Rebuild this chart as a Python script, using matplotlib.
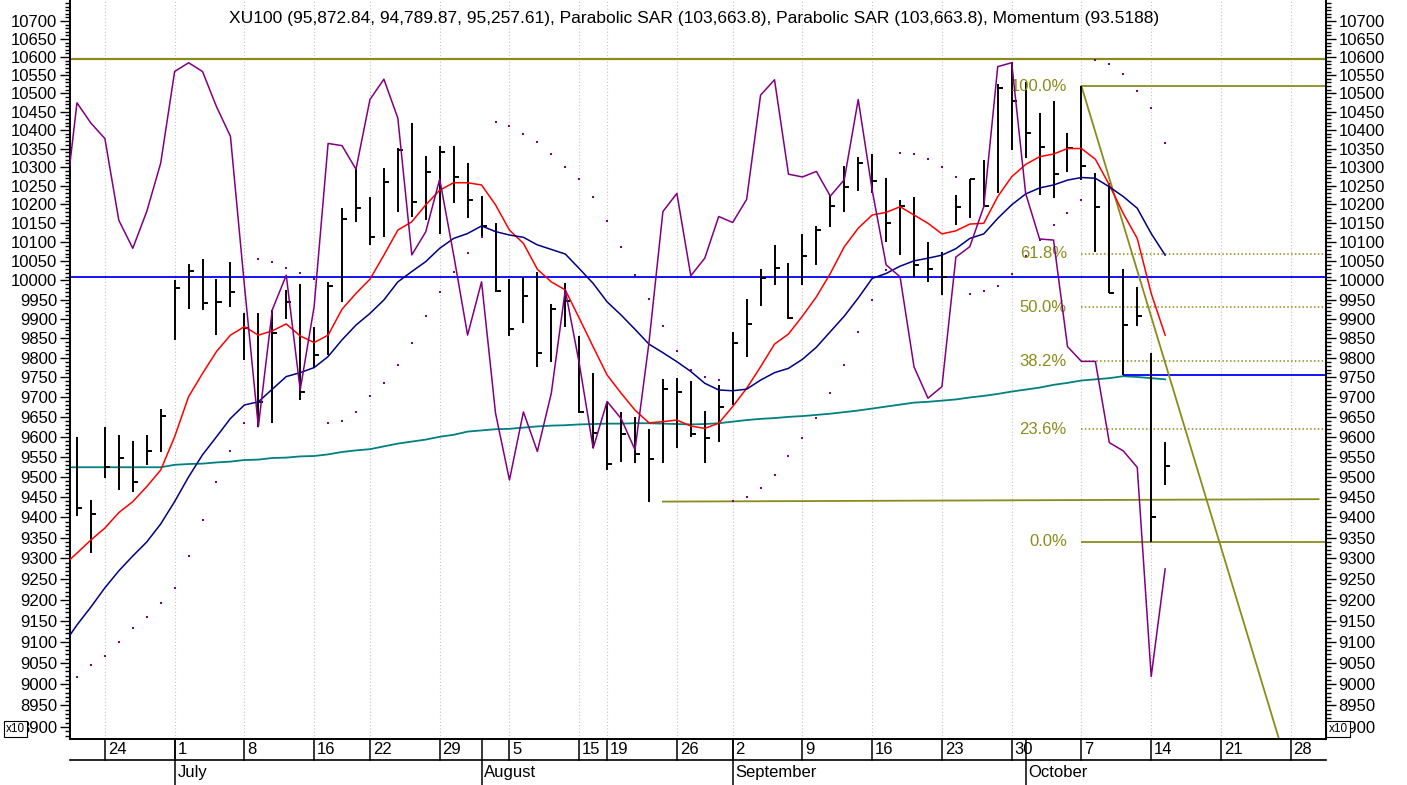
import numpy as np
import pandas as pd
import matplotlib
matplotlib.use('Agg')
import matplotlib.pyplot as plt
import matplotlib.transforms as mtransforms
from matplotlib.ticker import FixedLocator, FuncFormatter, NullFormatter

plt.rcParams['font.family'] = ['Liberation Sans', 'DejaVu Sans']

# trading sessions (BIST holidays removed), Jun 19 .. Nov 1 2019
holidays = ['2019-07-15', '2019-08-12', '2019-08-13', '2019-08-14',
            '2019-08-30', '2019-10-29']
sessions = pd.bdate_range('2019-06-19', '2019-11-01')
sessions = sessions[~sessions.isin(pd.to_datetime(holidays))]

# XU100 (x10) daily bars, Jun 20 .. Oct 15
high = [9600, 9443, 9625, 9605, 9590, 9605, 9670, 10001, 10042, 10055,
        10004, 10049, 9914, 9916, 9923, 9975, 9990, 9880, 9996, 10190,
        10297, 10221, 10297, 10351, 10420, 10330, 10357, 10357, 10310, 10222,
        10152, 10004, 10010, 10023, 9939, 9994, 9856, 9762, 9688, 9663,
        9649, 9619, 9745, 9749, 9742, 9666, 9731, 9867, 9951, 10029,
        10093, 10045, 10122, 10143, 10225, 10303, 10328, 10335, 10270, 10212,
        10221, 10101, 10075, 10225, 10267, 10319, 10527, 10586, 10531, 10447,
        10480, 10391, 10520, 10283, 10256, 10029, 9983, 9811, 9587]
low = [9404, 9313, 9498, 9468, 9463, 9530, 9561, 9846, 9925, 9923,
       9858, 9931, 9794, 9625, 9634, 9899, 9693, 9773, 9807, 9944,
       10153, 10093, 10114, 10181, 10167, 10159, 10123, 10203, 10163, 10114,
       9970, 9856, 9889, 9777, 9790, 9880, 9659, 9571, 9517, 9538,
       9534, 9439, 9534, 9571, 9600, 9534, 9586, 9680, 9803, 9933,
       9988, 9899, 9988, 10040, 10141, 10181, 10237, 10230, 10101, 10066,
       10010, 9996, 9962, 10145, 10163, 10195, 10230, 10346, 10324, 10225,
       10216, 10288, 10265, 10075, 9966, 9756, 9882, 9341, 9479]
close = [9423, 9409, 9525, 9547, 9488, 9565, 9652, 9979, 10025, 9940,
         9944, 9969, 9876, 9688, 9863, 9944, 9714, 9807, 9985, 10161,
         10190, 10115, 10259, 10345, 10207, 10288, 10340, 10274, 10212, 10143,
         9972, 9873, 9960, 9811, 9925, 9946, 9662, 9610, 9532, 9607,
         9557, 9544, 9720, 9712, 9607, 9598, 9676, 9837, 9887, 10005,
         10031, 9901, 10064, 10132, 10196, 10247, 10310, 10263, 10150, 10197,
         10040, 10029, 10008, 10194, 10267, 10197, 10515, 10480, 10391, 10355,
         10281, 10351, 10303, 10192, 9968, 9884, 9908, 9402, 9526]

# parabolic SAR, Jun 20 .. Oct 15
sar = [9017, 9045, 9067, 9100, 9133, 9159, 9193, 9229, 9306, 9394,
       9488, 9565, 9635, 10056, 10049, 10031, 10018, 10003, 9635, 9640,
       9663, 9703, 9736, 9782, 9837, 9907, 9970, 10023, 10071, 10114,
       10423, 10411, 10389, 10367, 10334, 10301, 10268, 10221, 10156, 10087,
       10014, 9951, 9882, 9818, 9769, 9750, 9743, 9441, 9451, 9472,
       9505, 9552, 9596, 9646, 9710, 9782, 9867, 9950, 10027, 10339,
       10334, 10321, 10301, 10273, 9964, 9973, 9985, 10017, 10064, 10106,
       10145, 10178, 10212, 10592, 10580, 10553, 10507, 10459, 10366]

# moving averages, Jun 19 .. Oct 15
ma_fast = [9282, 9313, 9345, 9374, 9412, 9439, 9476, 9517, 9600, 9701,
           9760, 9816, 9858, 9880, 9858, 9869, 9887, 9856, 9839, 9858,
           9925, 9966, 10003, 10066, 10132, 10154, 10199, 10238, 10258, 10258,
           10252, 10199, 10132, 10097, 10029, 9996, 9975, 9902, 9828, 9756,
           9710, 9667, 9635, 9638, 9642, 9627, 9621, 9634, 9676, 9722,
           9777, 9835, 9861, 9907, 9957, 10018, 10088, 10137, 10172, 10179,
           10194, 10172, 10150, 10122, 10130, 10148, 10150, 10221, 10274, 10307,
           10328, 10335, 10350, 10350, 10321, 10252, 10176, 10110, 9966, 9858]
ma_mid = [9092, 9140, 9183, 9229, 9270, 9306, 9340, 9384, 9439, 9500,
          9555, 9600, 9646, 9680, 9688, 9720, 9752, 9762, 9775, 9803,
          9846, 9884, 9914, 9949, 9996, 10023, 10049, 10084, 10110, 10123,
          10143, 10128, 10119, 10113, 10093, 10081, 10069, 10031, 9992, 9944,
          9910, 9873, 9835, 9813, 9790, 9765, 9735, 9718, 9716, 9720,
          9743, 9762, 9773, 9796, 9827, 9867, 9907, 9954, 10005, 10018,
          10037, 10051, 10058, 10066, 10083, 10110, 10122, 10163, 10199, 10228,
          10244, 10252, 10265, 10272, 10270, 10247, 10221, 10190, 10123, 10066]
ma_long = [9524, 9524, 9524, 9524, 9524, 9524, 9524, 9524, 9530, 9532,
           9533, 9536, 9538, 9542, 9543, 9547, 9548, 9551, 9552, 9556,
           9562, 9566, 9569, 9576, 9583, 9588, 9593, 9600, 9605, 9613,
           9616, 9619, 9620, 9623, 9626, 9628, 9629, 9631, 9632, 9633,
           9633, 9634, 9634, 9633, 9632, 9631, 9632, 9634, 9638, 9642,
           9645, 9647, 9650, 9652, 9655, 9658, 9662, 9666, 9671, 9676,
           9681, 9686, 9688, 9691, 9694, 9699, 9703, 9708, 9714, 9719,
           9724, 9731, 9736, 9742, 9745, 9748, 9753, 9751, 9748, 9745]

# momentum overlay (own hidden scale), Jun 19 .. Oct 15
momentum = [99.82, 102.01, 101.64, 101.36, 99.87, 99.36, 100.03, 100.91, 102.58, 102.74,
            102.58, 101.94, 101.40, 98.69, 96.11, 98.24, 98.87, 96.78, 98.30, 101.27,
            101.23, 100.80, 102.07, 102.44, 101.73, 99.24, 99.66, 100.62, 99.24, 97.78,
            98.75, 96.36, 95.14, 96.38, 95.66, 96.72, 98.60, 97.27, 95.72, 96.57,
            96.26, 95.69, 97.64, 100.03, 100.36, 98.86, 99.18, 99.94, 99.83, 100.25,
            102.15, 102.43, 100.71, 100.66, 100.76, 100.31, 100.61, 102.07, 100.42, 99.06,
            98.84, 97.20, 96.63, 96.84, 99.20, 99.39, 100.12, 102.67, 102.74, 100.36,
            99.53, 99.51, 97.57, 97.30, 97.30, 95.82, 95.67, 95.37, 91.56, 93.52]

# drawn objects
top_line = 10595
round_line = 10010
support_line = ('2019-10-10', 9755)
fib_high = ('2019-10-07', 10520)
fib_low = ('2019-10-14', 9341)
fib_ratios = [1.0, 0.618, 0.5, 0.382, 0.236, 0.0]
trend = [('2019-10-07', 10520), ('2019-10-25', 8889)]
base_line = [('2019-08-23', 9439), ('2019-10-31', 9445)]

title = ('XU100 (95,872.84, 94,789.87, 95,257.61), Parabolic SAR (103,663.8), '
         'Parabolic SAR (103,663.8), Momentum (93.5188)')

OLIVE = '#8b8b1c'


def pos(day):
    return sessions.get_loc(pd.Timestamp(day))


fig = plt.figure(figsize=(14.07, 7.85), dpi=100)
ax = fig.add_axes([70 / 1407, 46 / 785, 1256 / 1407, 739 / 785])
ax.set_yscale('log')
ax.set_ylim(8872, 10759)
x0, x1 = 0.5, 90.53
ax.set_xlim(x0, x1)

pb = np.arange(1, 1 + len(close))
pl = np.arange(0, len(ma_fast))

# week / month boundaries
week_pos, week_lab, month_pos, month_lab = [], [], [], []
for i in range(1, len(sessions)):
    d, prev = sessions[i], sessions[i - 1]
    if i > x1:
        break
    if d.isocalendar()[1] != prev.isocalendar()[1]:
        week_pos.append(i)
        week_lab.append(str(d.day))
    if d.month != prev.month:
        month_pos.append(i)
        month_lab.append(d.strftime('%B'))

for p in week_pos:
    ax.axvline(p, color='#c4c4c4', lw=0.8, ls=(0, (1, 2)), zorder=0)

# indicators
ax.plot(pl, ma_long, color='#008080', lw=1.3, zorder=2)
ax.vlines(pb, low, high, color='black', lw=1.4, zorder=3)
ax.hlines(close, pb, pb + 0.36, color='black', lw=1.4, zorder=3)
ax.plot(pl, ma_fast, color='#ff0000', lw=1.1, zorder=4)
ax.plot(pl, ma_mid, color='#000080', lw=1.1, zorder=4)
ax.plot(pb, sar, ls='none', marker='s', ms=2.0, mew=0, color='#800080', zorder=5)

# horizontal lines
ax.axhline(top_line, color=OLIVE, lw=1.6, zorder=2)
ax.axhline(round_line, color='#0000ff', lw=1.3, zorder=2)
ax.hlines(support_line[1], pos(support_line[0]), x1, color='#0000ff', lw=1.3, zorder=2)
ax.plot([pos(base_line[0][0]), pos(base_line[1][0])],
        [base_line[0][1], base_line[1][1]], color=OLIVE, lw=1.3, zorder=2)

# trend line, extended in log space
tp0, tp1 = pos(trend[0][0]), pos(trend[1][0])
tx = np.array([tp0, tp1 + 2])
ty = trend[0][1] * (trend[1][1] / trend[0][1]) ** ((tx - tp0) / (tp1 - tp0))
ax.plot(tx, ty, color=OLIVE, lw=1.3, zorder=2)

# fibonacci retracement
fp = pos(fib_high[0])
for r in fib_ratios:
    lev = fib_low[1] + (fib_high[1] - fib_low[1]) * r
    if r in (0.0, 1.0):
        ax.hlines(lev, fp, x1, color=OLIVE, lw=1.3, zorder=2)
    else:
        ax.hlines(lev, fp, x1, color=OLIVE, lw=1.1, ls=(0, (1, 1.5)), zorder=2)
    ax.text(fp - 1.05, lev, '%.1f%%' % (r * 100), color=OLIVE, fontsize=12,
            ha='right', va='center', zorder=6)

# momentum on its own scale
ax2 = ax.twinx()
ax2.set_ylim(90.422, 103.883)
ax2.plot(pl, momentum, color='#800080', lw=1.1)
ax2.axis('off')
ax2.set_xlim(x0, x1)

# y axis both sides
ax.yaxis.set_major_locator(FixedLocator(np.arange(8900, 10701, 50)))
ax.yaxis.set_minor_locator(FixedLocator(np.arange(8880, 10760, 10)))
ax.yaxis.set_major_formatter(FuncFormatter(lambda v, _: '%d' % round(v)))
ax.yaxis.set_minor_formatter(NullFormatter())
ax.tick_params(axis='y', which='both', left=True, right=True,
               labelleft=True, labelright=True, direction='out', width=1.0,
               labelsize=12, pad=2)
ax.tick_params(axis='y', which='major', length=7)
ax.tick_params(axis='y', which='minor', length=3.5)
ax.set_xticks([])

ax.spines['top'].set_visible(False)
for s in ('left', 'right', 'bottom'):
    ax.spines[s].set_linewidth(1.4)

# date rows under the chart
trans = mtransforms.blended_transform_factory(ax.transData, ax.transAxes)
r1 = -21 / 739
r2 = -46 / 739
ax.plot([0, 1], [r1, r1], transform=ax.transAxes, clip_on=False, color='black', lw=1.2)
for p, lab in zip(week_pos, week_lab):
    ax.plot([p, p], [0, r1], transform=trans, clip_on=False, color='black', lw=1.1)
    ax.text(p + 0.2, r1 / 2, lab, transform=trans, fontsize=12, ha='left', va='center')
for p, lab in zip(month_pos, month_lab):
    ax.plot([p, p], [0, r2], transform=trans, clip_on=False, color='black', lw=1.1)
    ax.text(p + 0.2, (r1 + r2) / 2, lab, transform=trans, fontsize=12,
            ha='left', va='center')

fig.text(694 / 1407, 1 - 19 / 785, title, fontsize=12.5, ha='center', va='center')

box = dict(boxstyle='square,pad=0.2', fc='white', ec='black', lw=0.8)
fig.text(15.5 / 1407, 1 - 729 / 785, 'x10', fontsize=8.5, ha='center', va='center',
         bbox=box, zorder=10)
fig.text(1338 / 1407, 1 - 729 / 785, 'x10', fontsize=8.5, ha='center', va='center',
         bbox=box, zorder=10)

fig.savefig('out.png', dpi=100)
